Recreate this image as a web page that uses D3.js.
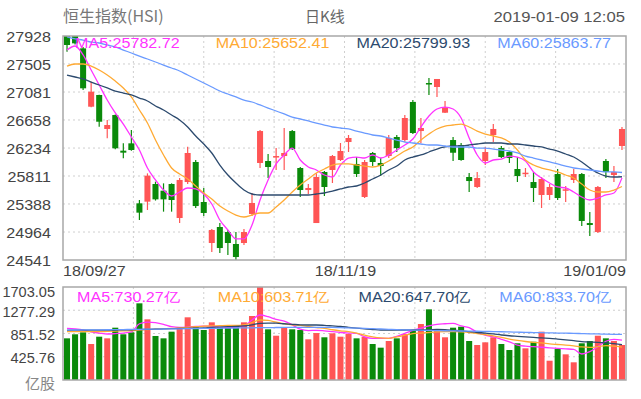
<!DOCTYPE html>
<html>
<head>
<meta charset="utf-8">
<script src="https://cdn.jsdelivr.net/npm/d3@7"></script>
<style>
  body { margin: 0; background: #fff; }
  svg { display: block; font-family: "Liberation Sans", Arial, sans-serif; }
</style>
</head>
<body>
<svg width="641" height="399"></svg>
<script>
const dates = ['18/09/27','18/09/28','18/10/02','18/10/03','18/10/04','18/10/05','18/10/08','18/10/09','18/10/10','18/10/11',
    '18/10/12','18/10/15','18/10/16','18/10/18','18/10/19','18/10/22','18/10/23','18/10/24','18/10/25','18/10/26',
    '18/10/29','18/10/30','18/10/31','18/11/01','18/11/02','18/11/05','18/11/06','18/11/07','18/11/08','18/11/09',
    '18/11/12','18/11/13','18/11/14','18/11/15','18/11/16','18/11/19','18/11/20','18/11/21','18/11/22','18/11/23',
    '18/11/26','18/11/27','18/11/28','18/11/29','18/11/30','18/12/03','18/12/04','18/12/05','18/12/06','18/12/07',
    '18/12/10','18/12/11','18/12/12','18/12/13','18/12/14','18/12/17','18/12/18','18/12/19','18/12/20','18/12/21',
    '18/12/24','18/12/27','18/12/28','18/12/31','19/01/02','19/01/03','19/01/04','19/01/07','19/01/08','19/01/09'];

const open = [27928,27928,27741,26859,27036,26522,26733,26194,26305,25398,
    25423,25690,25589,25690,25176,25720,26023,25418,24798,25040,
    24964,24783,24798,25237,26008,26038,26098,26113,26491,25932,
    25599,25100,25872,25902,26053,26325,25993,25494,26159,26008,
    26113,26401,26355,26930,26491,27217,27157,26768,26355,26280,
    25796,25645,26038,26431,26234,26174,25917,25841,25720,25524,
    25524,25841,25589,25751,25841,25100,24964,26038,25826,26265];
const high = [27928,27928,27760,27237,27040,26658,26740,26305,26507,25448,
    25851,25725,25700,25700,25781,26254,26053,25630,25010,25100,
    24995,24964,25010,25554,26507,26144,26234,26537,26507,25947,
    25690,25851,25887,26129,26310,26431,26098,26053,26174,26083,
    26431,26431,26733,26960,26688,27293,27278,26945,26401,26310,
    25856,25872,26250,26597,26265,26189,26098,25932,25872,25796,
    25690,25917,25660,25917,25856,25267,25660,26068,25962,26552];
const low = [27691,27800,27111,26850,26557,26381,26214,26078,26194,25146,
    25297,25440,25272,25272,25100,25690,25327,25206,24662,24647,
    24617,24541,24768,25206,25932,25781,25902,25902,26204,25494,
    25539,25100,25509,25705,26038,26174,25796,25478,25962,25811,
    26083,26174,26325,26446,26310,27036,27006,26763,26038,26043,
    25569,25630,25977,26325,26083,26008,25720,25796,25418,25327,
    25448,25448,25418,25705,25055,24904,24949,25781,25720,26204];
const close = [27792,27817,27137,27086,26632,26582,26230,26164,26204,25257,
    25816,25458,25458,25448,25751,26159,25357,25252,24995,24722,
    24798,24586,24964,25403,26491,25947,26113,26159,26219,25599,
    25630,25796,25645,26113,26189,26386,25841,26023,26023,25962,
    26386,26234,26688,26461,26537,27202,27278,26850,26163,26053,
    25735,25781,26174,26522,26098,26083,25811,25861,25630,25766,
    25645,25478,25610,25841,25131,25070,25645,25872,25872,26522];

const ma5 = [27716,27777,27641,27414,27187,26960,26764,26597,26401,26204,
    25932,25751,25599,25509,25569,25630,25615,25539,25388,25146,
    24995,24859,24859,25070,25448,25751,25993,26129,26234,26053,
    25947,25902,25826,25796,25977,26083,26098,26083,26129,26083,
    26129,26204,26280,26371,26552,26718,26824,26854,26824,26688,
    26386,26129,26008,26053,26068,26113,26098,26038,25872,25781,
    25705,25645,25630,25569,25494,25448,25478,25524,25554,25782.72];
const ma10 = [27474,27505,27505,27474,27414,27338,27247,27142,27006,26809,
    26612,26355,26129,25932,25841,25766,25660,25554,25463,25357,
    25282,25221,25191,25221,25252,25252,25342,25448,25569,25675,
    25766,25856,25917,25977,25993,25993,25977,25962,25947,25977,
    26038,26113,26189,26250,26355,26446,26522,26567,26582,26597,
    26552,26491,26446,26416,26386,26325,26204,26053,25977,25932,
    25902,25872,25826,25781,25690,25599,25569,25569,25599,25652.41];
const ma20 = [27338,27308,27278,27232,27187,27142,27096,27066,27036,26990,
    26945,26870,26809,26733,26658,26552,26416,26295,26159,25977,
    25826,25705,25599,25539,25524,25524,25524,25524,25524,25524,
    25524,25539,25554,25584,25615,25645,25660,25705,25766,25826,
    25902,25962,26053,26098,26129,26174,26219,26250,26265,26265,
    26280,26295,26310,26310,26310,26295,26295,26280,26265,26250,
    26219,26189,26144,26098,26023,25932,25856,25811,25796,25799.93];
const ma60 = [27913,27883,27867,27837,27822,27792,27762,27716,27671,27625,
    27580,27535,27489,27444,27399,27338,27278,27217,27157,27096,
    27051,27006,26960,26930,26885,26839,26794,26749,26703,26673,
    26643,26612,26582,26552,26537,26522,26491,26461,26431,26416,
    26386,26355,26325,26310,26295,26280,26280,26265,26250,26250,
    26250,26234,26234,26219,26204,26189,26159,26113,26083,26053,
    26023,25993,25962,25932,25917,25902,25887,25872,25872,25863.77];

const volume = [763,837,873,659,793,763,958,837,873,1404,
    1111,806,763,885,965,1148,965,916,1056,965,
    965,965,1056,1172,1703,928,811,965,928,916,
    745,860,782,855,793,842,763,793,659,592,
    714,763,842,916,1025,1294,916,782,958,976,
    714,641,690,782,659,549,672,580,701,885,
    353,568,470,324,672,714,811,763,714,641];
const volMa5 = [946,935,916,880,860,842,850,860,880,1030,
    1060,1050,1020,976,965,970,980,988,980,970,
    965,965,990,1100,1190,1160,1110,1080,1010,930,
    905,910,900,885,870,860,855,790,763,763,
    763,800,855,910,950,990,1020,1030,1038,990,
    960,873,820,790,745,700,640,620,610,600,
    590,580,570,560,476,520,610,710,745,730.27];
const volMa10 = [885,885,885,885,885,890,895,900,903,915,
    925,935,940,945,955,965,975,985,990,995,
    1000,1000,1010,1050,1099,1090,1060,1030,1010,1000,
    980,960,946,920,900,885,860,820,790,770,
    763,790,820,850,860,870,880,885,885,880,
    870,850,830,810,780,750,725,705,690,680,
    660,650,640,625,605,598,610,630,620,603.71];
const volMa20 = [910,912,912,912,912,915,916,918,920,925,
    928,930,935,940,945,946,950,955,965,970,
    976,980,990,1010,1038,1040,1040,1030,1020,1010,
    1007,1007,1000,990,980,965,950,935,925,916,
    916,916,916,916,916,920,925,920,910,900,
    885,870,860,845,824,810,800,790,780,770,
    763,750,735,720,702,695,690,680,665,647.70];
const volMa60 = [915,916,917,918,919,920,922,924,926,928,
    930,932,934,936,938,940,942,944,946,948,
    950,952,954,956,958,960,961,962,963,964,
    965,965,965,962,958,954,950,946,940,934,
    928,922,918,915,912,908,905,902,900,897,
    895,893,890,887,884,880,876,872,869,866,
    863,860,857,854,850,846,843,840,837,833.70];

const priceTicks = [24541, 24964, 25388, 25811, 26234, 26658, 27081, 27505, 27928];
const volTicks = [425.76, 851.52, 1277.29, 1703.05];
const dateTicks = ['18/09/27', '18/11/19', '19/01/09'];

const maNames = ['MA5', 'MA10', 'MA20', 'MA60'];
const maColors = ['#ff33ff', '#ffaa33', '#2c4a6e', '#6a9aff'];
const priceMas = [ma5, ma10, ma20, ma60];
const volMas = [volMa5, volMa10, volMa20, volMa60];

const upColor = '#ff5555',
    downColor = '#0a8a0a';

const svg = d3.select('svg');
const left = 63, right = 626;
const top1 = 36, bottom1 = 260;
const top2 = 287, bottom2 = 380;

const x = d3.scaleBand()
    .domain(dates)
    .range([left, right])
    .paddingInner(0.25)
    .paddingOuter(0.125);
const xc = d => x(d) + x.bandwidth() / 2;

const y = d3.scaleLinear().domain([24541, 27928]).range([bottom1, top1]);
const yv = d3.scaleLinear().domain([0, 1703.05]).range([bottom2, top2]);

// stretched latin text like the original
function label(g, px, py, str, anchor, color, size, sx = 1.15) {
    return g.append('text')
        .attr('transform', `translate(${px},${py}) scale(${sx},1)`)
        .attr('text-anchor', anchor)
        .attr('fill', color)
        .style('font-size', size + 'px')
        .text(str);
}

// header
svg.append('text')
    .attr('x', 63).attr('y', 22)
    .attr('fill', '#777')
    .style('font-size', '16px')
    .style('font-family', '"Noto Sans CJK SC", sans-serif')
    .text('恒生指数(HSI)');
svg.append('text')
    .attr('x', 305).attr('y', 22)
    .attr('fill', '#666')
    .style('font-size', '15px')
    .style('font-family', '"Noto Sans CJK SC", sans-serif')
    .text('日K线');
label(svg, 625, 22, '2019-01-09 12:05', 'end', '#555', 14.5);

const vSplits = d3.range(1, 8).map(k => left + k * (right - left) / 8);

function grid(g, yTicks, yScale, t, b) {
    g.selectAll('.hg')
        .data(yTicks)
        .enter()
        .append('line')
        .attr('x1', left).attr('x2', right)
        .attr('y1', d => yScale(d)).attr('y2', d => yScale(d))
        .attr('stroke', '#cfcfcf')
        .attr('stroke-dasharray', '2,3');
    g.selectAll('.vg')
        .data(vSplits)
        .enter()
        .append('line')
        .attr('x1', d => d).attr('x2', d => d)
        .attr('y1', t).attr('y2', b)
        .attr('stroke', '#cfcfcf')
        .attr('stroke-dasharray', '2,3');
}

// ---------- price panel ----------
const main = svg.append('g');
grid(main, priceTicks.slice(1, -1), y, top1, bottom1);

svg.append('clipPath').attr('id', 'clip1')
    .append('rect').attr('x', left).attr('y', top1).attr('width', right - left).attr('height', bottom1 - top1);

const candles = main.append('g')
    .attr('clip-path', 'url(#clip1)')
    .selectAll('g')
    .data(dates)
    .enter()
    .append('g');

candles.append('line')
    .attr('x1', (d, i) => xc(d)).attr('x2', (d, i) => xc(d))
    .attr('y1', (d, i) => y(high[i]))
    .attr('y2', (d, i) => y(low[i]))
    .attr('stroke', (d, i) => close[i] >= open[i] ? upColor : downColor)
    .attr('stroke-width', 1.2);

candles.append('rect')
    .attr('x', d => x(d))
    .attr('width', x.bandwidth())
    .attr('y', (d, i) => y(Math.max(open[i], close[i])))
    .attr('height', (d, i) => Math.max(1.5, Math.abs(y(open[i]) - y(close[i]))))
    .attr('fill', (d, i) => close[i] >= open[i] ? upColor : downColor);

const priceLine = d3.line()
    .x((v, i) => xc(dates[i]))
    .y(v => y(v))
    .curve(d3.curveMonotoneX);

main.append('g')
    .attr('clip-path', 'url(#clip1)')
    .selectAll('path')
    .data(priceMas)
    .enter()
    .append('path')
    .attr('d', priceLine)
    .attr('fill', 'none')
    .attr('stroke', (d, i) => maColors[i])
    .attr('stroke-width', 1.3);

main.append('rect')
    .attr('x', left).attr('y', top1)
    .attr('width', right - left).attr('height', bottom1 - top1)
    .attr('fill', 'none')
    .attr('stroke', '#a8a8a8')
    .attr('stroke-width', 1.5);

priceTicks.forEach(t => label(main, 51, y(t) + 6, d3.format('d')(t), 'end', '#444', 14));

maNames.forEach((n, k) => {
    const last = priceMas[k][priceMas[k].length - 1];
    label(main, left + 12 + k * (right - left) / 4, 48, n + ':' + d3.format('.2f')(last), 'start', maColors[k], 14);
});

label(main, left, 276, dateTicks[0], 'start', '#444', 14);
label(main, x(dateTicks[1]), 276, dateTicks[1], 'middle', '#444', 14);
label(main, right, 276, dateTicks[2], 'end', '#444', 14);

// ---------- volume panel ----------
const vol = svg.append('g');
grid(vol, volTicks.slice(0, -1), yv, top2, bottom2);

svg.append('clipPath').attr('id', 'clip2')
    .append('rect').attr('x', left).attr('y', top2).attr('width', right - left).attr('height', bottom2 - top2);

vol.append('g')
    .attr('clip-path', 'url(#clip2)')
    .selectAll('rect')
    .data(dates)
    .enter()
    .append('rect')
    .attr('x', d => x(d))
    .attr('width', x.bandwidth())
    .attr('y', (d, i) => yv(volume[i]))
    .attr('height', (d, i) => bottom2 - yv(volume[i]))
    .attr('fill', (d, i) => close[i] >= open[i] ? upColor : downColor);

const volLine = d3.line()
    .x((v, i) => xc(dates[i]))
    .y(v => yv(v))
    .curve(d3.curveMonotoneX);

vol.append('g')
    .attr('clip-path', 'url(#clip2)')
    .selectAll('path')
    .data(volMas)
    .enter()
    .append('path')
    .attr('d', volLine)
    .attr('fill', 'none')
    .attr('stroke', (d, i) => maColors[i])
    .attr('stroke-width', 1.3);

vol.append('rect')
    .attr('x', left).attr('y', top2)
    .attr('width', right - left).attr('height', bottom2 - top2)
    .attr('fill', 'none')
    .attr('stroke', '#a8a8a8')
    .attr('stroke-width', 1.5);

volTicks.forEach((t, k) => {
    const py = k === volTicks.length - 1 ? 297 : yv(t) + 6.5;
    label(vol, 55, py, d3.format('.2f')(t), 'end', '#444', 14, 1.04);
});
vol.append('text')
    .attr('x', 55).attr('y', 389)
    .attr('text-anchor', 'end')
    .attr('fill', '#888')
    .style('font-size', '15px')
    .style('font-family', '"Noto Sans CJK SC", sans-serif')
    .text('亿股');

maNames.forEach((n, k) => {
    const last = volMas[k][volMas[k].length - 1];
    label(vol, left + 14 + k * (right - left) / 4, 302, n + ':' + d3.format('.2f')(last) + '亿', 'start', maColors[k], 14);
});
</script>
</body>
</html>
